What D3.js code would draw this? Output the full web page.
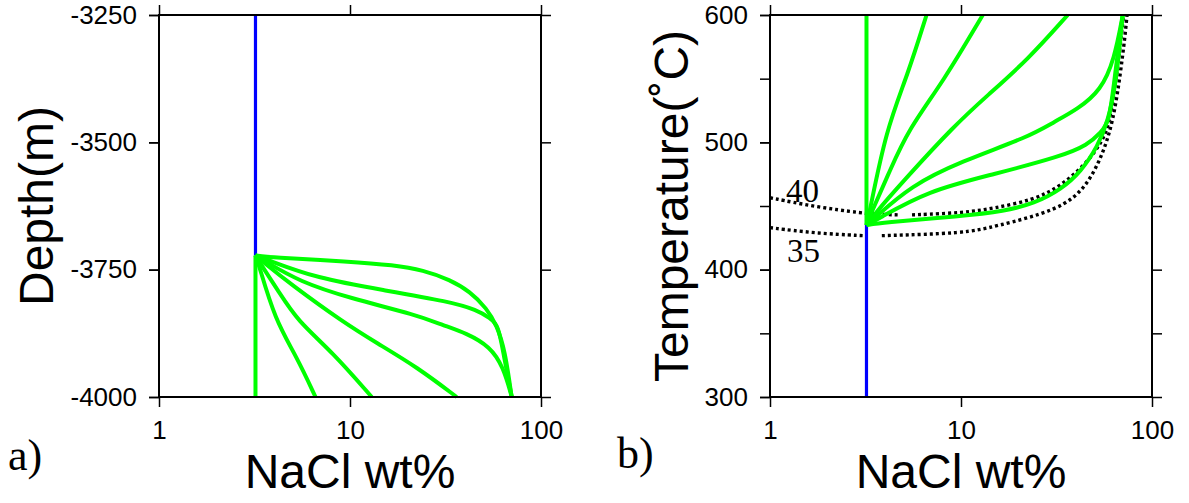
<!DOCTYPE html>
<html lang="en">
<head>
<meta charset="UTF-8">
<title>NaCl wt% vs depth and temperature</title>
<script src="https://cdnjs.cloudflare.com/ajax/libs/d3/7.8.5/d3.min.js"></script>
<style>
  body { margin: 0; background: #fff; }
  svg { display: block; }
  .tick text { font-family: "Liberation Sans", Arial, sans-serif; font-size: 26px; fill: #000; }
  .tick line { stroke: #000; stroke-width: 1.5px; }
  .title { font-family: "Liberation Sans", Arial, sans-serif; font-size: 48px; fill: #000; }
  .serif { font-family: "Liberation Serif", "Times New Roman", serif; fill: #000; }
</style>
</head>
<body>
<svg id="chart" width="1189" height="503"></svg>
<script>
// tick values
const naclTicks = [1, 10, 100];
const depthTicks = [-4000, -3750, -3500, -3250];
const tempLabelTicks = [300, 400, 500, 600];
const tempMinorTicks = [300, 350, 400, 450, 500, 550, 600];

// blue single-phase path
const blueNacl = [3.2, 3.2];
const blueDepth = [-3250, -3722];
const blueTemp = [300, 435];

// green fan of paths (NaCl wt%, depth in m, temperature in C)
const fan1Nacl = [3.2, 3.2];
const fan1Depth = [-3722, -4000];
const fan1Temp = [435, 600];

const fan2Nacl = [3.2, 3.3, 4.05, 5.26, 6.6];
const fan2Depth = [-3722, -3735, -3849, -3921, -4000];
const fan2Temp = [435, 443, 510, 553, 600];

const fan3Nacl = [3.2, 3.35, 4.25, 5.3, 8.1, 13];
const fan3Depth = [-3722, -3735, -3794, -3850, -3912, -4000];
const fan3Temp = [435, 443, 478, 510, 548, 600];

const fan4Nacl = [3.2, 3.45, 4.95, 9.2, 13.8, 22.4, 36.2];
const fan4Depth = [-3722, -3733, -3780, -3853, -3894, -3941, -4000];
const fan4Temp = [435, 442, 469, 513, 537, 565, 600];

const fan5Nacl = [3.2, 3.5, 5.47, 10, 22.4, 30.7, 40.8, 54.1, 63.5, 70.3];
const fan5Depth = [-3722, -3731, -3774, -3806, -3839, -3859, -3875, -3901, -3941, -4000];
const fan5Temp = [435, 440, 466, 485, 504, 516, 526, 541, 565, 600];

const fan6Nacl = [3.2, 3.6, 6.7, 14.9, 33.4, 46.1, 54.1, 59.8, 63.5, 70.3];
const fan6Depth = [-3722, -3729, -3767, -3790, -3813, -3829, -3845, -3859, -3914, -4000];
const fan6Temp = [435, 439, 462, 475, 489, 498, 508, 516, 549, 600];

const fan7Nacl = [3.2, 3.8, 10, 16.9, 24.2, 33.4, 42.5, 52, 58.6, 64.8, 70.2];
const fan7Depth = [-3722, -3726, -3734, -3741, -3751, -3770, -3793, -3826, -3859, -3908, -4000];
const fan7Temp = [435, 437, 442, 446, 452, 463, 477, 497, 516, 545, 600];

// dotted contours in panel b (two pieces each)
const c40aNacl = [1, 1.72, 3.08, 3.6, 4.68];
const c40aTemp = [456.5, 449.4, 444.3, 443.5, 443];
const c40bNacl = [5.54, 10.5, 14.76, 23.9, 33, 45.5, 55.6, 60.3, 65, 71];
const c40bTemp = [443, 444.7, 448.2, 454.7, 465.1, 483.5, 501.8, 517.5, 550, 600];
const c35aNacl = [1, 1.72, 3.08];
const c35aTemp = [433, 428.6, 426.7];
const c35bNacl = [3.85, 10.5, 14.76, 33, 45.5, 55.6, 62.7, 68, 72.2, 74];
const c35bTemp = [426.7, 428.6, 433.7, 446.9, 465.1, 491.4, 517.5, 551.5, 583, 600];

const fanNacl = [fan1Nacl, fan2Nacl, fan3Nacl, fan4Nacl, fan5Nacl, fan6Nacl, fan7Nacl];
const fanDepth = [fan1Depth, fan2Depth, fan3Depth, fan4Depth, fan5Depth, fan6Depth, fan7Depth];
const fanTemp = [fan1Temp, fan2Temp, fan3Temp, fan4Temp, fan5Temp, fan6Temp, fan7Temp];

const svg = d3.select("#chart");
const size = 382, plotTop = 15;

function panel(left, yDomain, yTicks, yMinor) {
  const x = d3.scaleLog().domain([1, 100]).range([left, left + size]);
  const y = d3.scaleLinear().domain(yDomain).range([plotTop + size, plotTop]);
  const g = svg.append("g");
  const lines = g.append("g");
  const fmt = d => String(d);

  g.append("g").attr("transform", `translate(0,${plotTop + size})`)
    .call(d3.axisBottom(x).tickValues(naclTicks).tickSize(10).tickPadding(14).tickFormat(fmt))
    .call(a => a.select(".domain").remove());
  g.append("g").attr("transform", `translate(0,${plotTop})`)
    .call(d3.axisTop(x).tickValues(naclTicks).tickSize(10).tickFormat(""))
    .call(a => a.select(".domain").remove());
  g.append("g").attr("transform", `translate(${left},0)`)
    .call(d3.axisLeft(y).tickValues(yMinor).tickSize(10).tickFormat(""))
    .call(a => a.select(".domain").remove());
  g.append("g").attr("transform", `translate(${left},0)`)
    .call(d3.axisLeft(y).tickValues(yTicks).tickSize(10).tickPadding(12).tickFormat(fmt))
    .call(a => a.select(".domain").remove());
  g.append("g").attr("transform", `translate(${left + size},0)`)
    .call(d3.axisRight(y).tickValues(yMinor).tickSize(10).tickFormat(""))
    .call(a => a.select(".domain").remove());

  g.append("rect").attr("x", left).attr("y", plotTop).attr("width", size).attr("height", size)
    .attr("fill", "none").attr("stroke", "#000").attr("stroke-width", 2);

  const line = d3.line().x(d => x(d[0])).y(d => y(d[1])).curve(d3.curveBasis);
  return { x, y, lines, line };
}

// panel a
const pa = panel(159, [-4000, -3250], depthTicks, depthTicks);
pa.lines.append("path").attr("d", pa.line(d3.zip(blueNacl, blueDepth)))
  .attr("fill", "none").attr("stroke", "#0000ff").attr("stroke-width", 3.2);
fanNacl.forEach((n, i) => {
  pa.lines.append("path").attr("d", pa.line(d3.zip(n, fanDepth[i])))
    .attr("fill", "none").attr("stroke", "#00ff00").attr("stroke-width", 4);
});

// panel b
const pb = panel(770, [300, 600], tempLabelTicks, tempMinorTicks);
[[c40aNacl, c40aTemp], [c40bNacl, c40bTemp], [c35aNacl, c35aTemp], [c35bNacl, c35bTemp]].forEach(([n, t]) => {
  pb.lines.append("path").attr("d", pb.line(d3.zip(n, t)))
    .attr("fill", "none").attr("stroke", "#000").attr("stroke-width", 3.4).attr("stroke-dasharray", "3 3");
});
pb.lines.append("path").attr("d", pb.line(d3.zip(blueNacl, blueTemp)))
  .attr("fill", "none").attr("stroke", "#0000ff").attr("stroke-width", 3.2);
fanNacl.forEach((n, i) => {
  pb.lines.append("path").attr("d", pb.line(d3.zip(n, fanTemp[i])))
    .attr("fill", "none").attr("stroke", "#00ff00").attr("stroke-width", 4);
});
pb.lines.append("text").attr("class", "serif").attr("x", 786).attr("y", 202)
  .style("font-size", "33px").text("40");
pb.lines.append("text").attr("class", "serif").attr("x", 787).attr("y", 262)
  .style("font-size", "33px").text("35");

// titles
svg.append("text").attr("class", "title").attr("text-anchor", "middle")
  .attr("transform", "translate(53,206) rotate(-90)").text("Depth(m)");
svg.append("text").attr("class", "title").attr("text-anchor", "middle")
  .attr("transform", "translate(688,206) rotate(-90)").text("Temperature(˚C)");
svg.append("text").attr("class", "title").attr("text-anchor", "middle")
  .attr("x", 350).attr("y", 488).text("NaCl wt%");
svg.append("text").attr("class", "title").attr("text-anchor", "middle")
  .attr("x", 961).attr("y", 488).text("NaCl wt%");
svg.append("text").attr("class", "serif").attr("x", 8).attr("y", 470)
  .style("font-size", "44px").text("a)");
svg.append("text").attr("class", "serif").attr("x", 617).attr("y", 468)
  .style("font-size", "44px").text("b)");
</script>
</body>
</html>
